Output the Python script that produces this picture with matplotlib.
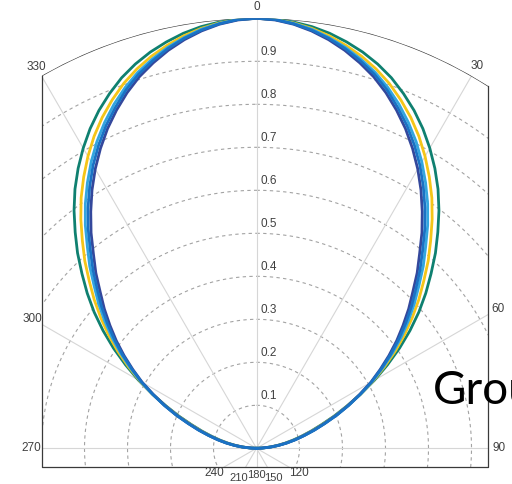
import numpy as np
import matplotlib.pyplot as plt
from matplotlib.patches import Rectangle
from matplotlib.lines import Line2D
from matplotlib.transforms import offset_copy

# half of each pattern (0..90 deg), mirrored about the 0 deg axis when drawn
angles = [0, 2.5, 5, 7.5, 10, 12.5, 15, 17.5, 20, 22.5, 25, 27.5, 30, 32.5, 35, 37.5,
          40, 42.5, 45, 47.5, 50, 52.5, 55, 57.5, 60, 62.5, 65, 67.5, 70, 72.5, 75,
          77.5, 80, 82.5, 85, 87.5, 90]
teal = [1.000, 0.999, 0.995, 0.989, 0.980, 0.968, 0.954, 0.937, 0.917, 0.893,
        0.867, 0.838, 0.806, 0.772, 0.736, 0.697, 0.656, 0.616, 0.574, 0.534,
        0.493, 0.450, 0.406, 0.361, 0.317, 0.273, 0.231, 0.195, 0.161, 0.133,
        0.108, 0.086, 0.066, 0.047, 0.029, 0.011, 0.000]
yellow = [1.000, 0.998, 0.993, 0.985, 0.974, 0.960, 0.944, 0.925, 0.903, 0.877,
          0.849, 0.818, 0.784, 0.748, 0.711, 0.671, 0.630, 0.591, 0.550, 0.512,
          0.473, 0.434, 0.394, 0.353, 0.313, 0.273, 0.234, 0.199, 0.165, 0.137,
          0.112, 0.090, 0.069, 0.050, 0.031, 0.012, 0.000]
light = [1.000, 0.998, 0.992, 0.983, 0.970, 0.955, 0.937, 0.917, 0.893, 0.866,
         0.836, 0.804, 0.769, 0.732, 0.694, 0.654, 0.612, 0.574, 0.534, 0.498,
         0.461, 0.424, 0.386, 0.348, 0.311, 0.273, 0.236, 0.201, 0.168, 0.140,
         0.114, 0.092, 0.071, 0.051, 0.032, 0.013, 0.000]
navy = [1.000, 0.997, 0.990, 0.979, 0.965, 0.948, 0.928, 0.906, 0.880, 0.851,
        0.820, 0.786, 0.750, 0.712, 0.672, 0.632, 0.590, 0.553, 0.514, 0.480,
        0.445, 0.411, 0.376, 0.341, 0.307, 0.270, 0.235, 0.201, 0.168, 0.140,
        0.114, 0.092, 0.071, 0.051, 0.032, 0.013, 0.000]
blue = [1.000, 0.998, 0.991, 0.981, 0.968, 0.952, 0.933, 0.912, 0.887, 0.858,
        0.828, 0.795, 0.760, 0.722, 0.683, 0.643, 0.601, 0.563, 0.524, 0.489,
        0.453, 0.417, 0.381, 0.344, 0.309, 0.272, 0.237, 0.203, 0.170, 0.142,
        0.116, 0.093, 0.072, 0.052, 0.033, 0.013, 0.000]

series = [(teal, '#0f8070'), (yellow, '#f5c518'), (light, '#33a6df'),
          (navy, '#34489c'), (blue, '#1a72c4')]

rings = [0.1, 0.2, 0.3, 0.4, 0.5, 0.6, 0.7, 0.8, 0.9]
spokes = list(range(0, 360, 30))

W, H = 512, 484
fig = plt.figure(figsize=(W / 100, H / 100), dpi=100)

# pole near the bottom, unit radius reaching the top of the figure
cx, cy, R = 256.5, H - 448.3, 430.0
ax = fig.add_axes([(cx - R) / W, (cy - R) / H, 2 * R / W, 2 * R / H], projection='polar')
ax.set_theta_zero_location('N')
ax.set_theta_direction(-1)
ax.set_ylim(0, 1)
ax.grid(False)
ax.set_xticks([])
ax.set_yticks([])
ax.spines['polar'].set_visible(False)
ax.patch.set_visible(False)

# visible window of the plane, in units of the outer radius
x_lo, x_hi, y_lo = -0.499, 0.5395, -0.0435
win = Rectangle(((cx + x_lo * R) / W, (cy + y_lo * R) / H),
                (x_hi - x_lo) * R / W, 2.0, transform=fig.transFigure,
                facecolor='none', edgecolor='none')
fig.add_artist(win)

full = np.linspace(0, 2 * np.pi, 1441)
for v in rings:
    ax.plot(full, np.full_like(full, v), ls=(0, (3, 3)), color='#a3a3a3',
            lw=0.8, clip_path=win)
for a in spokes:
    ax.plot([np.radians(a)] * 2, [0, 1], color='#d6d6d6', lw=0.8, clip_path=win)
ax.plot(full, np.ones_like(full), color='#3a3a3a', lw=0.9, clip_path=win)

# frame: left, bottom, right edges of the window
fx0, fx1 = (cx + x_lo * R) / W, (cx + x_hi * R) / W
fy0 = (cy + y_lo * R) / H
top_l = (cy + np.sqrt(1 - x_lo ** 2) * R) / H
top_r = (cy + np.sqrt(1 - x_hi ** 2) * R) / H
fig.add_artist(Line2D([fx0, fx0, fx1, fx1], [top_l, fy0, fy0, top_r],
                      transform=fig.transFigure, color='#3a3a3a', lw=0.9))

th = np.radians(np.concatenate([-np.array(angles[::-1]), np.array(angles[1:])]))
for vals, col in series:
    r = np.concatenate([vals[::-1], vals[1:]])
    ax.plot(th, r, color=col, lw=2.0, zorder=3, solid_joinstyle='round')

font = ['Liberation Sans', 'DejaVu Sans']
txt_col = '#404040'

# radial labels along the 0 deg axis
r_tr = offset_copy(ax.transData, fig=fig, x=4, y=9, units='dots')
for v in rings:
    ax.text(0, v, f'{v:g}', transform=r_tr, ha='left', va='center',
            fontsize=8.5, color=txt_col, family=font)

# angle labels just outside where each spoke leaves the window
crowded = {150: 13, 180: 8, 210: 13}
for a in spokes:
    t = np.radians(a)
    dx, dy = np.sin(t), np.cos(t)
    ts = [1.0]
    if dx > 1e-9:
        ts.append(x_hi / dx)
    if dx < -1e-9:
        ts.append(x_lo / dx)
    if dy < -1e-9:
        ts.append(y_lo / dy)
    off = crowded.get(a, 11)
    tr = offset_copy(ax.transData, fig=fig, x=off * dx, y=off * dy, units='dots')
    ax.text(t, min(ts), str(a), transform=tr, ha='center', va='center',
            fontsize=8.5 if a not in crowded else 8, color=txt_col,
            family=font, clip_on=False)

fig.text(432.7 / W, 80 / H, 'Group', fontsize=33, fontweight='normal',
         family=['Lato', 'DejaVu Sans'], color='black', ha='left', va='baseline')

fig.savefig('out.png', dpi=100)
